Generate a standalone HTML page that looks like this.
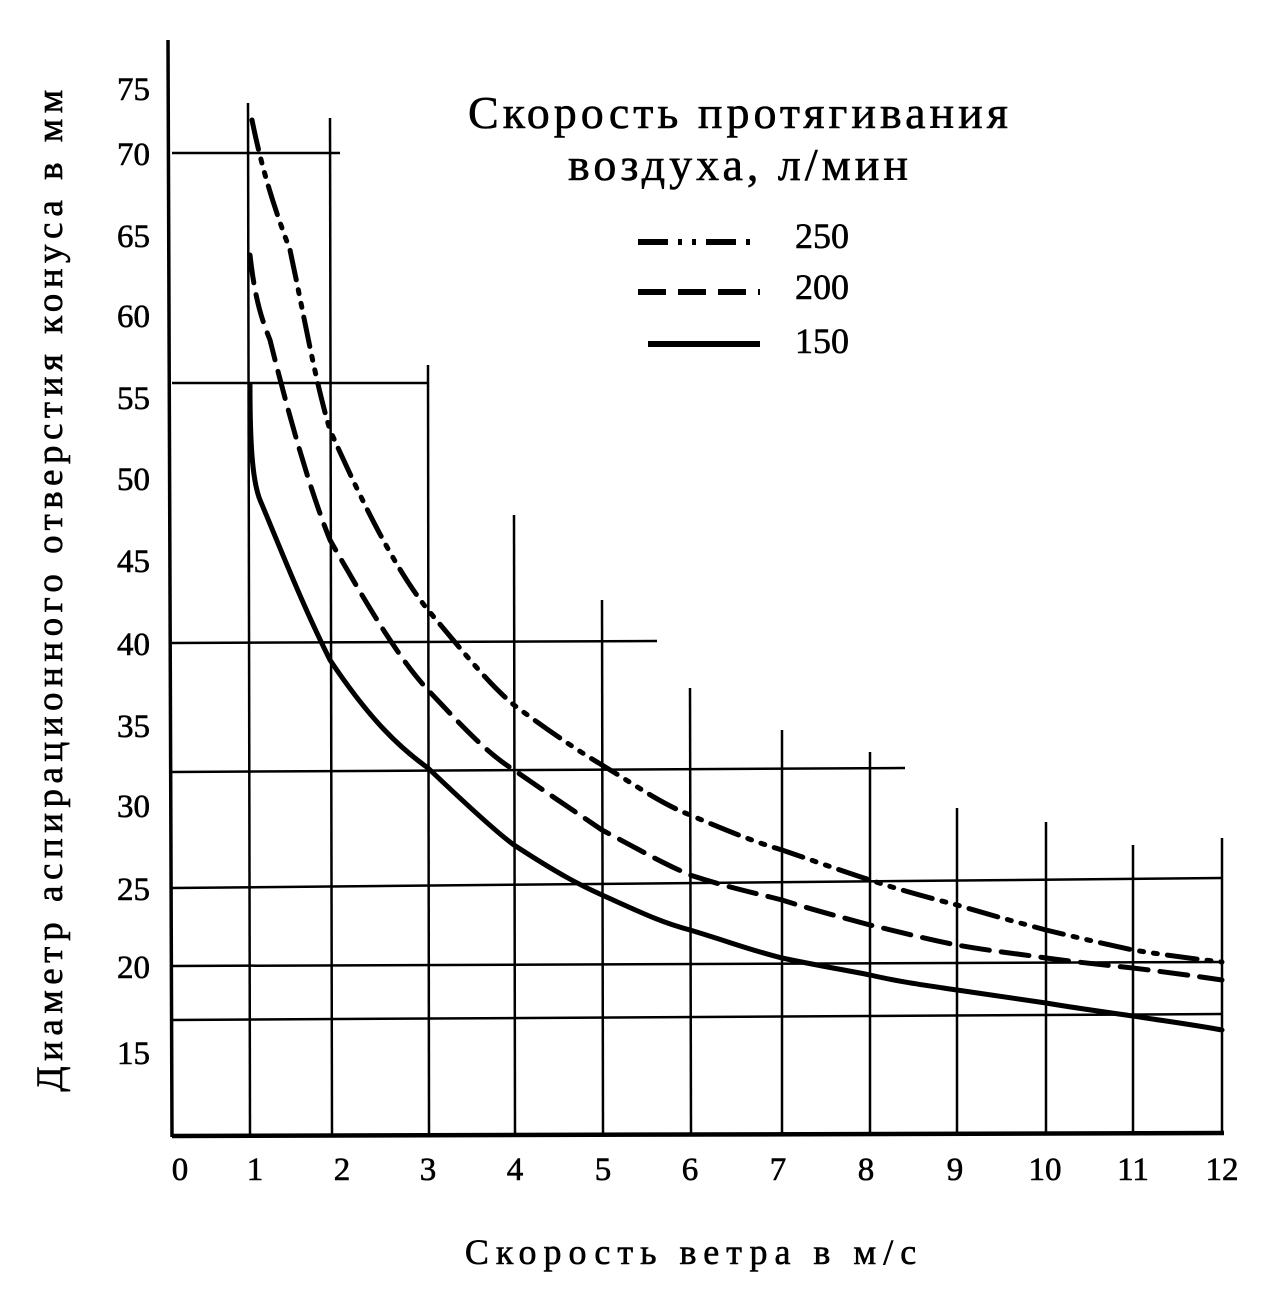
<!DOCTYPE html>
<html><head><meta charset="utf-8"><style>
body{margin:0;background:#fff}
svg text{font-family:"Liberation Serif",serif;fill:#000}
</style></head><body>
<svg width="1267" height="1297" viewBox="0 0 1267 1297" xmlns="http://www.w3.org/2000/svg">
<g stroke="#000" stroke-width="2.5" fill="none">
<line x1="168" y1="40" x2="172" y2="1137" stroke-width="3.5"/>
<line x1="172" y1="1136" x2="1224" y2="1133" stroke-width="4.5"/>
<line x1="172" y1="153" x2="340" y2="153"/>
<line x1="172" y1="383" x2="428" y2="383"/>
<line x1="172" y1="643" x2="657" y2="641"/>
<line x1="172" y1="772" x2="905" y2="768"/>
<line x1="172" y1="888" x2="1222" y2="878"/>
<line x1="172" y1="966" x2="1222" y2="962"/>
<line x1="172" y1="1020" x2="1222" y2="1014"/>
<line x1="248" y1="103" x2="250" y2="1135"/>
<line x1="330" y1="118" x2="332" y2="1135"/>
<line x1="428" y1="365" x2="429" y2="1135"/>
<line x1="514" y1="515" x2="515" y2="1135"/>
<line x1="602" y1="600" x2="603" y2="1135"/>
<line x1="690" y1="688" x2="691" y2="1135"/>
<line x1="782" y1="730" x2="782" y2="1135"/>
<line x1="870" y1="752" x2="870" y2="1135"/>
<line x1="957" y1="808" x2="957" y2="1135"/>
<line x1="1046" y1="822" x2="1046" y2="1135"/>
<line x1="1133" y1="845" x2="1133" y2="1135"/>
<line x1="1222" y1="838" x2="1222" y2="1135"/>
</g>
<g fill="none" stroke="#000" stroke-width="5" stroke-linecap="round" stroke-linejoin="round">
<path d="M250,385 C250,440 252,480 260,500 C275,535 300,600 330,660 C370,720 400,748 428,768 C470,808 500,835 514,845 C560,875 580,885 602,895 C640,912 660,922 690,930 C730,942 750,950 782,958 C820,966 845,970 870,975 C900,982 930,986 957,990 C990,995 1020,999 1046,1003 C1075,1008 1105,1012 1133,1016 C1165,1021 1195,1025 1222,1030"/>
<path stroke-dasharray="28,12" d="M250,255 C255,300 262,320 270,340 C290,420 310,490 330,540 C370,610 400,660 428,690 C470,735 490,755 514,770 C550,795 580,815 602,830 C640,850 660,862 690,875 C730,888 755,893 782,900 C820,912 845,918 870,925 C900,932 930,940 957,945 C990,951 1020,954 1046,958 C1075,962 1105,965 1133,968 C1165,972 1195,976 1222,980"/>
<path stroke-dasharray="30,10,4,10,4,10" d="M252,120 C262,170 275,210 290,250 C305,320 315,380 330,430 C370,520 400,575 428,610 C470,660 490,685 514,705 C550,732 580,752 602,765 C640,788 660,803 690,815 C730,832 755,842 782,850 C820,863 845,872 870,880 C900,890 930,898 957,905 C990,915 1020,923 1046,930 C1075,937 1105,944 1133,950 C1165,955 1195,959 1222,962"/>
</g>
<g font-size="33" text-anchor="end" stroke="#000" stroke-width="0.6">
<text x="150" y="100">75</text><text x="150" y="165">70</text><text x="150" y="247">65</text>
<text x="150" y="327">60</text><text x="150" y="409">55</text><text x="150" y="490">50</text>
<text x="150" y="572">45</text><text x="150" y="655">40</text><text x="150" y="737">35</text>
<text x="150" y="817">30</text><text x="150" y="900">25</text><text x="150" y="978">20</text>
<text x="150" y="1064">15</text>
</g>
<g font-size="33" text-anchor="middle" stroke="#000" stroke-width="0.6">
<text x="180" y="1180">0</text><text x="255" y="1180">1</text><text x="342" y="1180">2</text>
<text x="428" y="1180">3</text><text x="515" y="1180">4</text><text x="603" y="1180">5</text>
<text x="690" y="1180">6</text><text x="778" y="1180">7</text><text x="866" y="1180">8</text>
<text x="955" y="1180">9</text><text x="1045" y="1180">10</text><text x="1133" y="1180">11</text>
<text x="1222" y="1180">12</text>
</g>
<text x="694" y="1264" font-size="36" text-anchor="middle" letter-spacing="7" stroke="#000" stroke-width="0.6">Скорость ветра в м/с</text>
<text transform="translate(62,588) rotate(-90)" font-size="37" text-anchor="middle" letter-spacing="5.5" stroke="#000" stroke-width="0.6">Диаметр аспирационного отверстия конуса в мм</text>
<text x="740" y="128" font-size="46" text-anchor="middle" letter-spacing="4" stroke="#000" stroke-width="0.6">Скорость протягивания</text>
<text x="740" y="180" font-size="46" text-anchor="middle" letter-spacing="4" stroke="#000" stroke-width="0.6">воздуха, л/мин</text>
<g fill="none" stroke="#000" stroke-width="6">
<path d="M638,242 H760" stroke-dasharray="30,10,4,10,4,10"/>
<path d="M638,292 H760" stroke-dasharray="28,12"/>
<path d="M648,344 H760"/>
</g>
<g font-size="36" stroke="#000" stroke-width="0.6"><text x="795" y="248">250</text><text x="795" y="299">200</text><text x="795" y="353">150</text></g>
</svg>
</body></html>
